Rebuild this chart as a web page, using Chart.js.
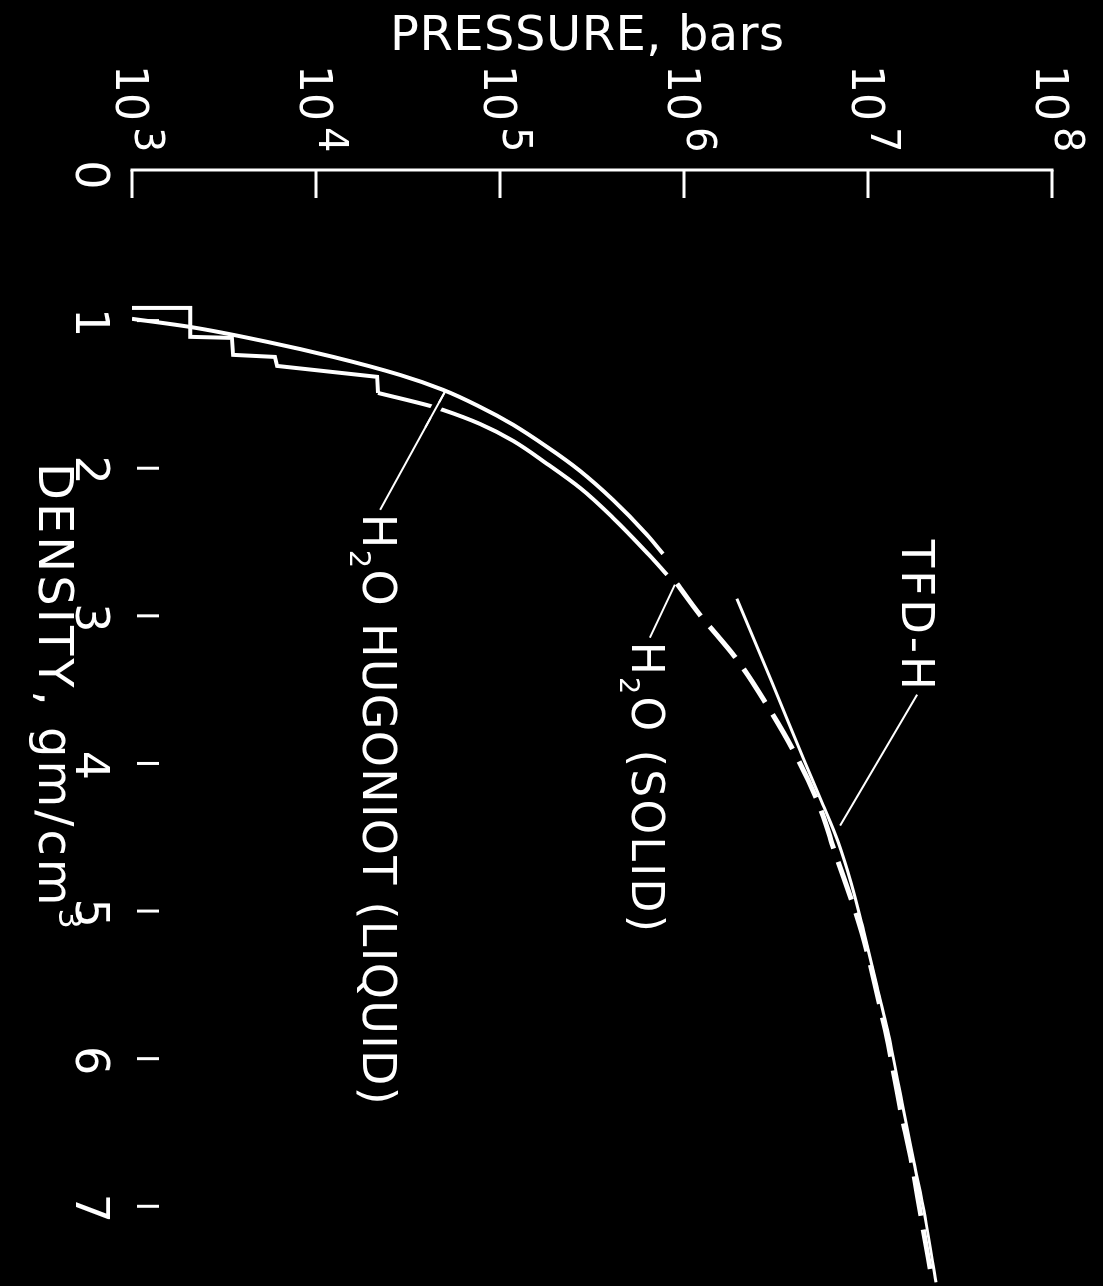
<!DOCTYPE html>
<html>
<head>
<meta charset="utf-8">
<script src="https://cdn.jsdelivr.net/npm/chart.js@4.4.1/dist/chart.umd.min.js"></script>
<style>
html,body{margin:0;padding:0;background:#000;overflow:hidden;}
body{width:1103px;height:1286px;position:relative;}
/* the plot is laid out with density along x and pressure up y, then turned a quarter clockwise */
#wrap{position:absolute;left:0;top:0;width:1286px;height:1103px;transform-origin:0 0;transform:translate(1103px,0) rotate(90deg);}
canvas{display:block;}
</style>
</head>
<body>
<div id="wrap"><canvas id="c" width="1286" height="1103"></canvas></div>
<script>
// Axis ticks
const densityTicks = [0, 1, 2, 3, 4, 5, 6, 7];          // gm/cm^3
const pressureExponents = [3, 4, 5, 6, 7, 8];            // 10^n bars

// H2O Hugoniot (liquid)
const hugoniotDensity  = [0.988, 1.043, 1.144, 1.246, 1.368, 1.469, 1.584, 1.706, 1.855, 2.018, 2.214, 2.451, 2.580];
const hugoniotPressure = [1.00e3, 2.07e3, 5.42e3, 1.24e4, 2.86e4, 4.90e4, 7.78e4, 1.18e5, 1.80e5, 2.72e5, 4.11e5, 6.30e5, 7.69e5];

// H2O (solid): low-pressure phase steps
const iceStepDensity  = [0.914, 0.914, 1.110, 1.117, 1.232, 1.246, 1.307, 1.381, 1.490];
const iceStepPressure = [1.00e3, 2.07e3, 2.07e3, 3.49e3, 3.54e3, 5.98e3, 6.14e3, 2.15e4, 2.17e4];

// H2O (solid): high-pressure branch
const iceDensity  = [1.490, 1.578, 1.605, 1.700, 1.815, 1.970, 2.133, 2.336, 2.573, 2.722];
const icePressure = [2.17e4, 4.17e4, 4.90e4, 7.78e4, 1.18e5, 1.80e5, 2.72e5, 4.11e5, 6.30e5, 8.09e5];

// H2O (solid): dashed continuation
const iceExtDensity  = [2.783, 2.993, 3.277, 3.582, 3.907, 4.265, 4.604, 5.146, 5.518, 5.904, 6.324, 6.703, 7.068, 7.495];
const iceExtPressure = [9.16e5, 1.22e6, 1.89e6, 2.75e6, 3.91e6, 5.35e6, 6.62e6, 9.27e6, 1.10e7, 1.29e7, 1.49e7, 1.73e7, 1.94e7, 2.23e7];

// TFD-H
const tfdDensity  = [2.884, 3.453, 3.995, 4.279, 4.529, 4.807, 5.146, 5.511, 5.890, 6.297, 6.703, 7.068, 7.515];
const tfdPressure = [1.94e6, 3.01e6, 4.55e6, 5.69e6, 6.87e6, 8.09e6, 9.51e6, 1.12e7, 1.32e7, 1.53e7, 1.78e7, 2.04e7, 2.34e7];

// Curve labels and their leader lines (leader starts on the curve, ends at the label)
const labelText     = ['TFD-H', 'H₂O (SOLID)', 'H₂O HUGONIOT (LIQUID)'];
const labelDensity  = [2.485, 3.175, 2.309];
const labelPressure = [1.53e7, 5.21e5, 1.80e4];
const leaderDensity  = [[4.421, 3.534], [2.789, 3.148], [1.483, 2.282]];
const leaderPressure = [[7.05e6, 1.85e7], [8.93e5, 6.53e5], [5.02e4, 2.23e4]];

const FONT = '"DejaVu Sans", sans-serif';
const WHITE = '#ffffff';

const pts = (xs, ys) => xs.map((v, i) => ({ x: v, y: ys[i] }));

const curve = (data, width, extra) => Object.assign({
  data, borderColor: WHITE, borderWidth: width, pointRadius: 0, fill: false,
  cubicInterpolationMode: 'monotone', borderCapStyle: 'butt'
}, extra || {});

const datasets = [
  curve(pts(hugoniotDensity, hugoniotPressure), 4),
  curve(pts(iceStepDensity, iceStepPressure), 4, { cubicInterpolationMode: 'default', tension: 0, borderJoinStyle: 'miter' }),
  curve(pts(iceDensity, icePressure), 4),
  curve(pts(iceExtDensity, iceExtPressure), 5, { borderDash: [40, 14] }),
  curve(pts(tfdDensity, tfdPressure), 3)
];
leaderDensity.forEach((ds, i) => {
  datasets.push(curve(pts(ds, leaderPressure[i]), 2, { cubicInterpolationMode: 'default', tension: 0 }));
});

// Text with per-glyph spacing; '₂' is set as a lowered small 2, '³' as a raised 3
function glyphs(str, size) {
  return Array.from(str).map(ch => {
    if (ch === '₂') return { t: '2', size: Math.round(size * 0.62), dy: size * 0.28 };
    if (ch === '³') return { t: '3', size: Math.round(size * 0.66), dy: -size * 0.42 };
    return { t: ch, size, dy: 0 };
  });
}
function textWidth(ctx, str, size, spacing) {
  let w = 0;
  glyphs(str, size).forEach((g, i, a) => {
    ctx.font = g.size + 'px ' + FONT;
    w += ctx.measureText(g.t).width + (i < a.length - 1 ? spacing : 0);
  });
  return w;
}
function drawText(ctx, str, x, y, size, spacing) {
  let cx = x;
  ctx.textAlign = 'left';
  ctx.textBaseline = 'alphabetic';
  glyphs(str, size).forEach(g => {
    ctx.font = g.size + 'px ' + FONT;
    ctx.fillText(g.t, cx, y + g.dy);
    cx += ctx.measureText(g.t).width + spacing;
  });
}

const frame = {
  id: 'frame',
  afterDatasetsDraw(chart) {
    const { ctx, scales: { x, y } } = chart;
    ctx.save();
    ctx.fillStyle = WHITE;
    ctx.strokeStyle = WHITE;
    ctx.lineCap = 'butt';

    // the Hugoniot leader is cut into the curve it crosses: black knock-out, then the leader again
    const hx0 = x.getPixelForValue(leaderDensity[2][0]), hy0 = y.getPixelForValue(leaderPressure[2][0]);
    const hx1 = x.getPixelForValue(leaderDensity[2][1]), hy1 = y.getPixelForValue(leaderPressure[2][1]);
    const at = t => [hx0 + (hx1 - hx0) * t, hy0 + (hy1 - hy0) * t];
    ctx.strokeStyle = '#000';
    ctx.lineWidth = 10;
    ctx.beginPath();
    ctx.moveTo(...at(0.09));
    ctx.lineTo(...at(0.22));
    ctx.stroke();
    ctx.strokeStyle = WHITE;
    ctx.lineWidth = 2;
    ctx.beginPath();
    ctx.moveTo(...at(0.0));
    ctx.lineTo(...at(0.3));
    ctx.stroke();

    const top = y.getPixelForValue(Math.pow(10, pressureExponents[pressureExponents.length - 1]));
    const bot = y.getPixelForValue(Math.pow(10, pressureExponents[0]));
    const axisX = x.getPixelForValue(0) - 3;

    // pressure axis with inward ticks
    ctx.lineWidth = 3;
    ctx.beginPath();
    ctx.moveTo(axisX, top - 1.5);
    ctx.lineTo(axisX, bot + 1.5);
    ctx.stroke();
    pressureExponents.forEach(n => {
      const py = y.getPixelForValue(Math.pow(10, n));
      ctx.beginPath();
      ctx.moveTo(axisX, py);
      ctx.lineTo(axisX + 28, py);
      ctx.stroke();
      ctx.textAlign = 'right';
      ctx.font = '44px ' + FONT;
      ctx.fillText('10', axisX - 49, py + 16);
      ctx.textAlign = 'left';
      ctx.font = '40px ' + FONT;
      ctx.fillText(String(n), axisX - 43, py - 3);
    });

    // density ticks (free-standing marks) and labels
    densityTicks.forEach(d => {
      const px = x.getPixelForValue(d);
      if (d > 0) {
        ctx.beginPath();
        ctx.moveTo(px, bot - 27);
        ctx.lineTo(px, bot - 5);
        ctx.stroke();
      }
      ctx.textAlign = 'center';
      ctx.textBaseline = 'alphabetic';
      ctx.font = '46px ' + FONT;
      ctx.fillText(String(d), px + 2, bot + 56);
    });

    // axis titles
    const pTitle = 'PRESSURE, bars';
    ctx.save();
    ctx.translate(50, (top + bot) / 2 + 5);
    ctx.rotate(-Math.PI / 2);
    const pw = textWidth(ctx, pTitle, 48, 0.5);
    drawText(ctx, pTitle, -pw / 2, 0, 48, 0.5);
    ctx.restore();

    const dTitle = 'DENSITY, gm/cm³';
    const dw = textWidth(ctx, dTitle, 48, 3);
    drawText(ctx, dTitle, 696 - dw / 2, bot + 93, 48, 3);

    // curve labels
    const sizes = [45, 44, 46];
    const spacing = [3, 2.3, 1.3];
    labelText.forEach((t, i) => {
      drawText(ctx, t, x.getPixelForValue(labelDensity[i]), y.getPixelForValue(labelPressure[i]), sizes[i], spacing[i]);
    });
    ctx.restore();
  }
};

new Chart(document.getElementById('c'), {
  type: 'line',
  data: { datasets },
  plugins: [frame],
  options: {
    responsive: false,
    animation: false,
    devicePixelRatio: 1,
    layout: { padding: { left: 173, right: 0, top: 51, bottom: 132 } },
    plugins: { legend: { display: false }, tooltip: { enabled: false } },
    scales: {
      x: { type: 'linear', min: 0, max: 7.54, display: false },
      y: { type: 'logarithmic', min: 1e3, max: 1e8, display: false }
    }
  }
});
</script>
</body>
</html>
